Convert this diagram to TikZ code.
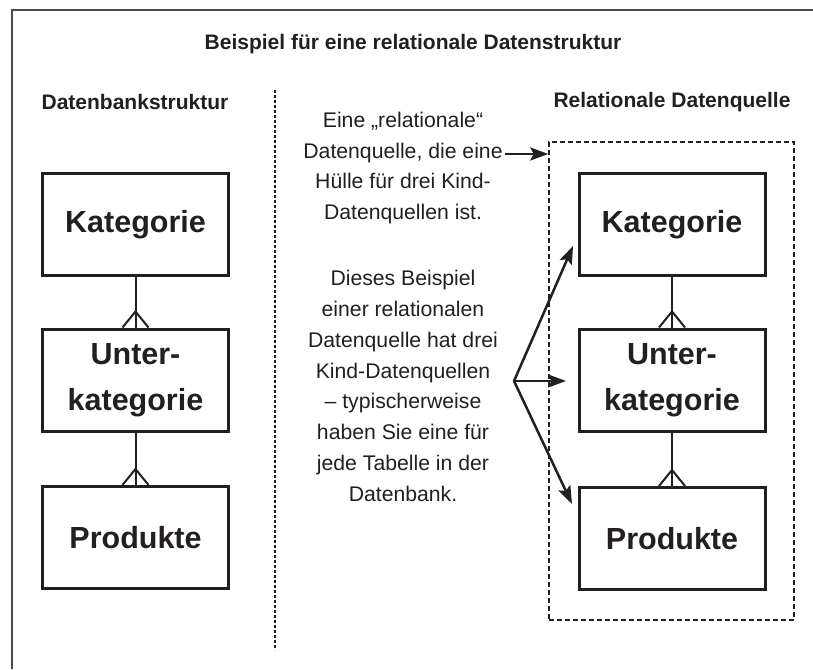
\documentclass[tikz,border=0pt]{standalone}
\usepackage{fontspec}
\setmainfont{Liberation Sans}
\usetikzlibrary{arrows.meta}
\definecolor{ink}{HTML}{231F20}
\begin{document}
\begin{tikzpicture}[x=1pt,y=-1pt,
  box/.style={draw=ink, line width=3pt, minimum width=186pt, minimum height=102pt,
    inner sep=0pt, align=center, text=ink, font=\fontsize{30.5}{46}\selectfont\bfseries},
  heading/.style={text=ink, inner sep=0pt, font=\fontsize{21}{25}\selectfont\bfseries},
  para/.style={text=ink, inner sep=0pt, align=center, font=\fontsize{21.2}{30.8}\selectfont},
  link/.style={draw=ink, line width=2pt},
  arr/.style={draw=ink, line width=2.5pt, -{Stealth[length=18pt,width=13pt,inset=3.5pt]}},
  frame/.style={draw=black!70, line width=2pt},
  divider/.style={draw=ink, line width=1.2pt, dash pattern=on 3pt off 2pt},
  wrapper/.style={draw=ink, line width=1.5pt, dash pattern=on 5pt off 3pt, minimum width=245pt, minimum height=478pt, inner sep=0pt}
]
\useasboundingbox (0,0) rectangle (813,669);
% outer frame
\coordinate (fTL) at (12,10);
\coordinate (fTR) at (813,10);
\coordinate (fBL) at (12,669);
\draw[frame] (fBL) -- (fTL) -- (fTR);

% headings
\node[heading] (title) at (413,44) {Beispiel für eine relationale Datenstruktur};
\node[heading] (hl) at (135,102) {Datenbankstruktur};
\node[heading] (hr) at (672,102) {Relationale Datenquelle};

% divider
\coordinate (dT) at (275,90);
\coordinate (dB) at (275,650);
\draw[divider] (dT) -- (dB);

% left boxes
\node[box] (k1) at (135.5,224.5) {Kategorie};
\node[box] (u1) at (135.5,380) {Unter-\\kategorie};
\node[box] (p1) at (135.5,537.5) {Produkte};
\draw[link] (k1.south) -- (u1.north);
\draw[link] (u1.north) ++(-13,0) -- ++(13,-16) -- ++(13,16);
\draw[link] (u1.south) -- (p1.north);
\draw[link] (p1.north) ++(-13,0) -- ++(13,-16) -- ++(13,16);

% right wrapper and boxes
\node[wrapper] (dq) at (671.5,381) {};
\node[box] (k2) at (672,224.5) {Kategorie};
\node[box] (u2) at (672,380) {Unter-\\kategorie};
\node[box] (p2) at (672,538.5) {Produkte};
\draw[link] (k2.south) -- (u2.north);
\draw[link] (u2.north) ++(-13,0) -- ++(13,-16) -- ++(13,16);
\draw[link] (u2.south) -- (p2.north);
\draw[link] (p2.north) ++(-13,0) -- ++(13,-16) -- ++(13,16);

% middle texts
\node[para] (t1) at (403,168) {Eine „relationale“\\Datenquelle, die eine\\Hülle für drei Kind-\\Datenquellen ist.};
\node[para] (t2) at (403,386) {Dieses Beispiel\\einer relationalen\\Datenquelle hat drei\\Kind-Datenquellen\\– typischerweise\\haben Sie eine für\\jede Tabelle in der\\Datenbank.};

% arrows
\coordinate (a0) at (505,154);
\draw[arr] (a0) -- (dq.west |- a0);
\coordinate (src) at (514,381);
\coordinate (tipA) at (573,246);
\coordinate (tipB) at (566,381);
\coordinate (tipC) at (572,504);
\draw[arr] (src) -- (tipA);
\draw[arr] (src) -- (tipB);
\draw[arr] (src) -- (tipC);
\end{tikzpicture}
\end{document}
